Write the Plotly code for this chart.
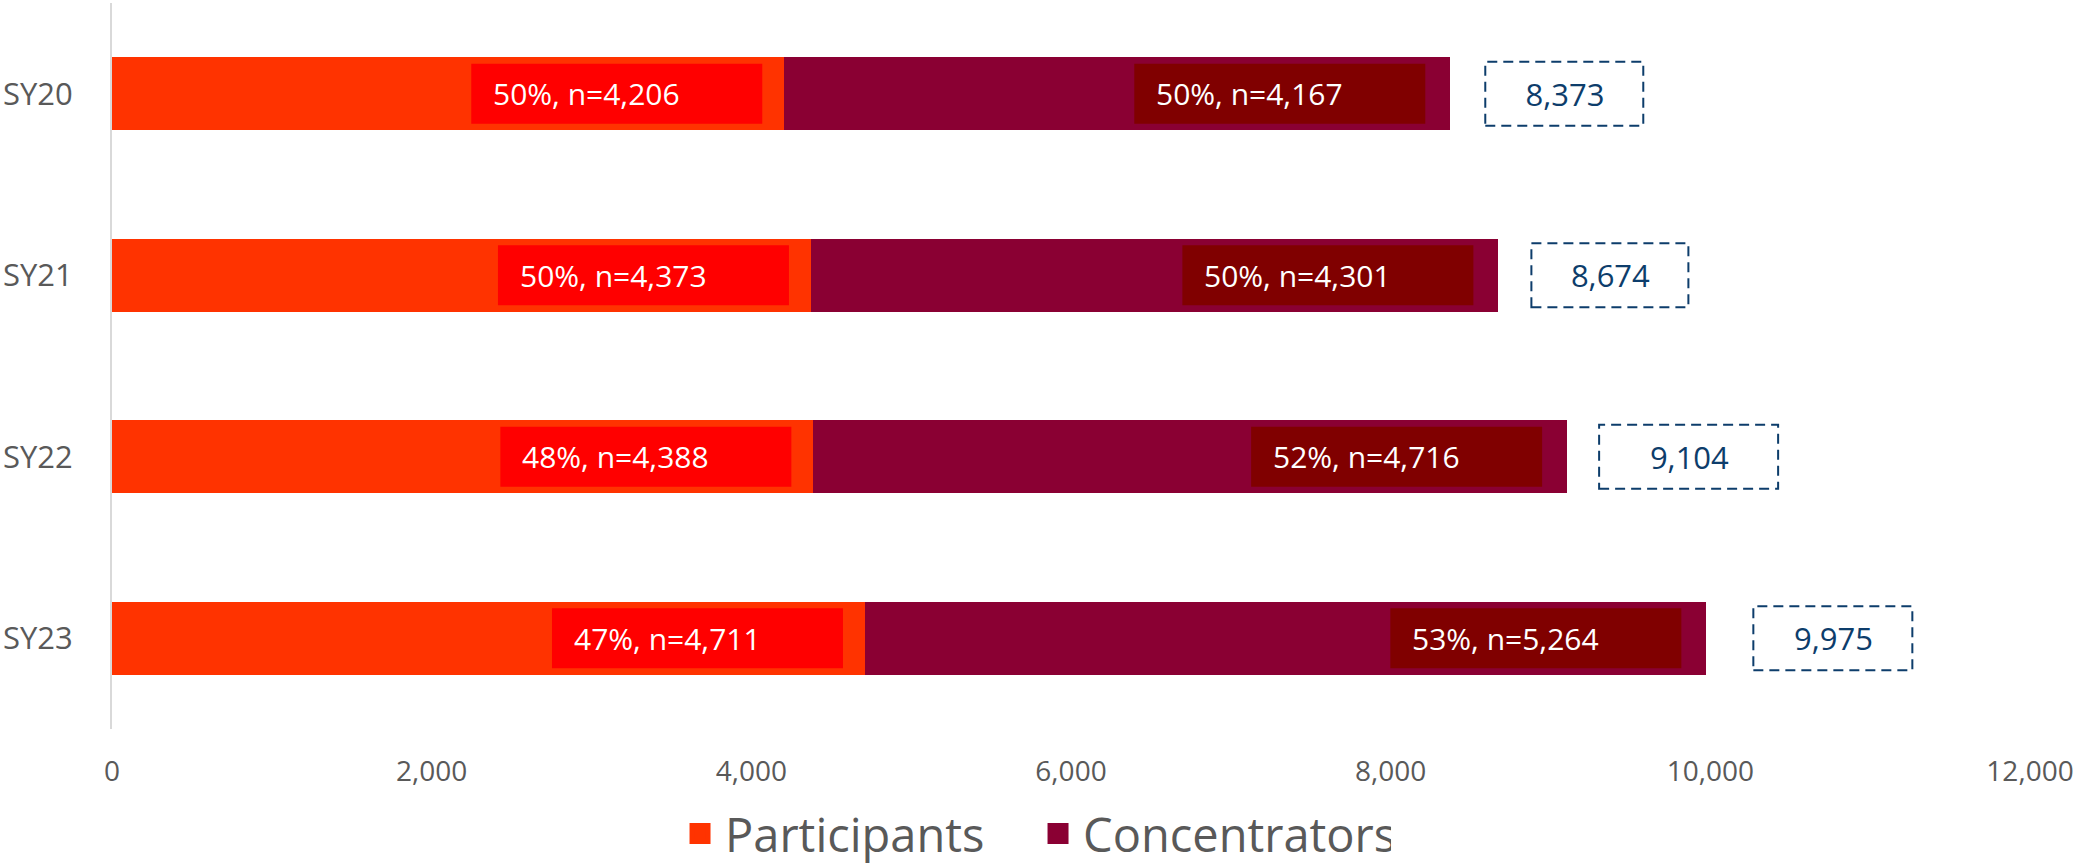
import plotly.graph_objects as go

years = ["SY20", "SY21", "SY22", "SY23"]
participants = [4206, 4373, 4388, 4711]
concentrators = [4167, 4301, 4716, 5264]
x_ticks = [0, 2000, 4000, 6000, 8000, 10000, 12000]

totals = [p + c for p, c in zip(participants, concentrators)]

# style
C_PART = "#FF3300"
C_CONC = "#8A0033"
C_PART_LBL = "#FF0000"
C_CONC_LBL = "#800000"
C_TOTAL = "#0D3D6B"
GRAY = "#595959"
FONT = "Open Sans"

# label box geometry (pixels)
LBL_W = 291
LBL_H = 60
LBL_PAD = 20
PART_GAP = 22
CONC_GAP = 25
# total box placement (pixel offsets from bar end, widths)
box_offset = [35, 33, 32, 47]
box_width = [158, 157, 179, 159]

fig = go.Figure()
fig.add_trace(go.Bar(y=years, x=participants, orientation="h", name="Participants",
                     marker=dict(color=C_PART, line=dict(width=0)), showlegend=False))
fig.add_trace(go.Bar(y=years, x=concentrators, orientation="h", name="Concentrators",
                     marker=dict(color=C_CONC, line=dict(width=0)), showlegend=False))
# legend entries
for nm, col in [("Participants", C_PART), ("Concentrators", C_CONC)]:
    fig.add_trace(go.Scatter(x=[None], y=[None], mode="markers", name=nm,
                             marker=dict(symbol="square", size=16, color=col,
                                         line=dict(width=5, color=col))))

annotations = []
shapes = []


def seg_label(xend, yr, gap, text, bg):
    shapes.append(dict(type="rect", xref="x", yref="y", xsizemode="pixel", ysizemode="pixel",
                       xanchor=xend, yanchor=yr, x0=-gap - LBL_W, x1=-gap,
                       y0=-LBL_H / 2, y1=LBL_H / 2, line=dict(width=0), fillcolor=bg,
                       layer="above"))
    annotations.append(dict(x=xend, y=yr, xref="x", yref="y", xanchor="left", yanchor="middle",
                            xshift=-gap - LBL_W + LBL_PAD, text=text, showarrow=False,
                            font=dict(family=FONT, size=30, color="white"),
                            align="left"))


for i, yr in enumerate(years):
    p, c, t = participants[i], concentrators[i], totals[i]
    pp = round(100 * p / t)
    cp = round(100 * c / t)
    seg_label(p, yr, PART_GAP, f"{pp}%, n={p:,}", C_PART_LBL)
    seg_label(t, yr, CONC_GAP, f"{cp}%, n={c:,}", C_CONC_LBL)
    annotations.append(dict(x=t, y=yr, xref="x", yref="y", xanchor="left", yanchor="middle",
                            xshift=box_offset[i], text=f"{t:,}", showarrow=False,
                            font=dict(family=FONT, size=31, color=C_TOTAL),
                            width=box_width[i], borderpad=0, align="center"))
    shapes.append(dict(type="rect", xref="x", yref="y", xsizemode="pixel", ysizemode="pixel",
                       xanchor=t, yanchor=yr, x0=box_offset[i], x1=box_offset[i] + box_width[i],
                       y0=-32, y1=32, line=dict(color=C_TOTAL, width=2, dash="10px,6px"),
                       fillcolor="rgba(0,0,0,0)"))

fig.update_layout(
    width=2077, height=866,
    margin=dict(l=111, r=42, t=3, b=137),
    paper_bgcolor="white", plot_bgcolor="white",
    barmode="stack", bargap=0.6,
    font=dict(family=FONT, color=GRAY),
    xaxis=dict(range=[0, 12000], tickvals=x_ticks, ticktext=[f"{v:,}" for v in x_ticks],
               showgrid=False, zeroline=False, showline=False, ticks="",
               tickfont=dict(family=FONT, size=28, color=GRAY), ticklabelstandoff=23,
               ticklabeloverflow="allow", fixedrange=True),
    yaxis=dict(type="category", categoryorder="array", categoryarray=years,
               range=[3.5, -0.5], showgrid=False, zeroline=False,
               showline=True, linecolor="#D9D9D9", linewidth=2, ticks="",
               tickfont=dict(family=FONT, size=31, color=GRAY), ticklabelstandoff=31,
               fixedrange=True),
    legend=dict(orientation="h", traceorder="normal", xref="container", yref="container",
                x=0.325, y=0.037, xanchor="left", yanchor="middle",
                itemwidth=40, entrywidth=303, entrywidthmode="pixels",
                font=dict(family=FONT, size=47, color=GRAY),
                itemclick=False, itemdoubleclick=False),
    annotations=annotations, shapes=shapes,
)

fig.write_html("out.html")
